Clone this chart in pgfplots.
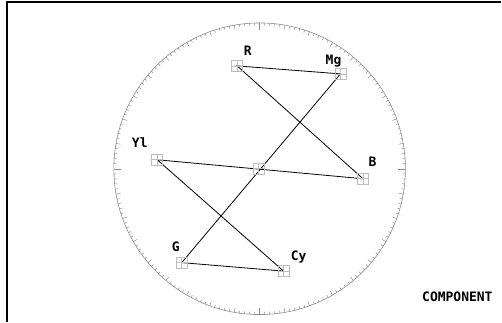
\documentclass[border=0pt]{standalone}
\usepackage{pgfplots}
\pgfplotsset{compat=1.18}
\usetikzlibrary{calc}
\usepackage{fontspec}
\newfontfamily\scopefont[BoldFont={DejaVu Sans Mono Bold}]{DejaVu Sans Mono}
\definecolor{grat}{gray}{0.55}
\definecolor{boxc}{gray}{0.74}
\begin{document}
\begin{tikzpicture}
\begin{axis}[
  scale only axis, width=502pt, height=322pt,
  xmin=0, xmax=502, ymin=0, ymax=322,
  hide axis, clip=false,
]
% frame
\path (rel axis cs:0,0) rectangle (rel axis cs:1,1);
\draw[line width=1.4pt] (axis cs:7,0) -- (axis cs:7,320) -- (axis cs:502,320);
\coordinate (O) at (axis cs:260,153);
% trace Yl-Cy-G-Mg-R-B-Yl
\addplot[black, line width=0.8pt] coordinates {
  (157.5,162) (284,50.5) (182,59) (341,248) (237.5,256) (363.5,143) (157.5,162)
};
% target boxes
\addplot[only marks, mark=square, mark size=5.5pt, boxc, line width=0.7pt] coordinates {
  (237.5,256) (341,248) (363.5,143) (284,50.5) (182,59) (157.5,162) (259,153)
};
\addplot[only marks, mark=+, mark size=5.5pt, boxc, line width=0.7pt] coordinates {
  (237.5,256) (341,248) (363.5,143) (284,50.5) (182,59) (157.5,162) (259,153)
};
% labels
\addplot[only marks, mark=none, point meta=explicit symbolic, nodes near coords,
  every node near coord/.style={anchor=center, font=\scopefont\bfseries\fontsize{13}{15}\selectfont, black}] coordinates {
  (248,271) [R] (334,261) [Mg] (373,160) [B] (299,65) [Cy] (176,75) [G] (140,179) [Yl] (458,25) [COMPONENT]
};
\end{axis}
\draw[grat, line width=0.6pt] (O) circle[radius=146pt];
\foreach \a in {0,2,...,358} {
  \pgfmathsetmacro{\len}{ifthenelse(mod(\a,90)==0,7,ifthenelse(mod(\a,10)==0,4.5,2.5))}
  \draw[grat, line width=0.5pt] ($(O)+(\a:146pt)$) -- ($(O)+(\a:146pt-\len pt)$);
}
\end{tikzpicture}
\end{document}
